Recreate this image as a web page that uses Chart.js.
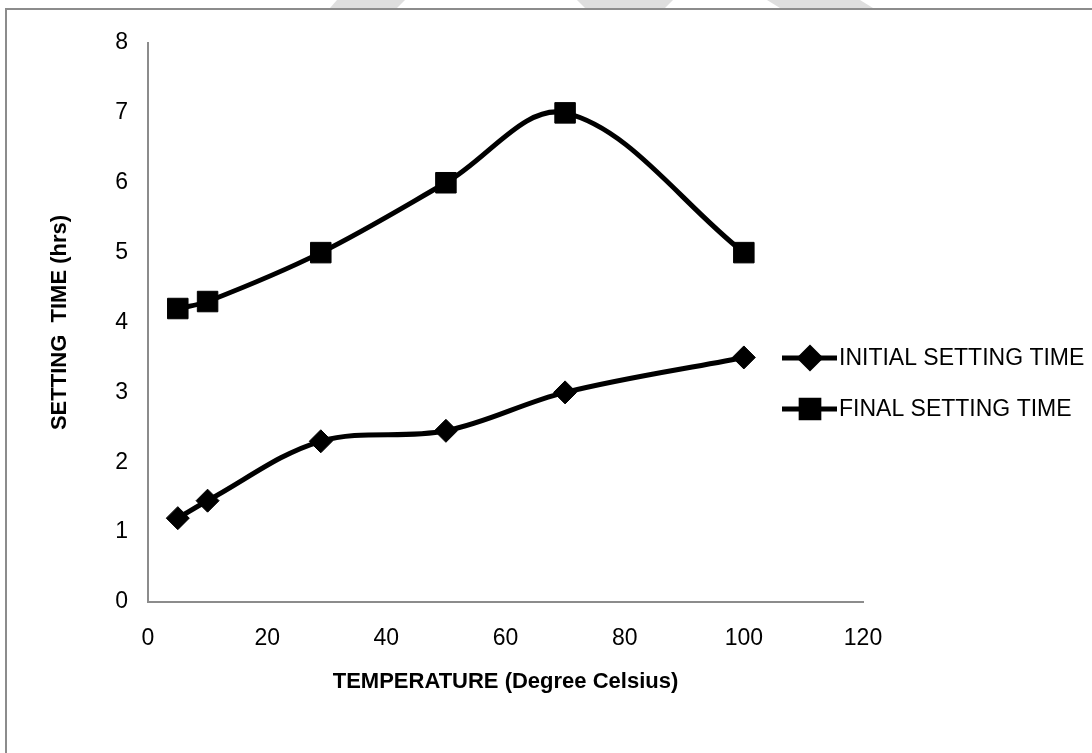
<!DOCTYPE html>
<html>
<head>
<meta charset="utf-8">
<script src="https://cdn.jsdelivr.net/npm/chart.js@4/dist/chart.umd.min.js"></script>
<style>
html, body { margin: 0; padding: 0; background: #fff; }
#wrap { width: 1092px; height: 753px; }
</style>
</head>
<body>
<div id="wrap"><canvas id="settingChart" width="1092" height="753"></canvas></div>
<script>
// values
const temperatures = [5, 10, 29, 50, 70, 100];
const initialSetting = [1.2, 1.45, 2.3, 2.45, 3.0, 3.5];
const finalSetting = [4.2, 4.3, 5.0, 6.0, 7.0, 5.0];
const seriesLabels = ["INITIAL SETTING TIME", "FINAL SETTING TIME"];
const xTitle = "TEMPERATURE (Degree Celsius)";
const yTitle = "SETTING  TIME (hrs)";
const xTickLabels = [0, 20, 40, 60, 80, 100, 120];
const yTickLabels = [0, 1, 2, 3, 4, 5, 6, 7, 8];

const fontFamily = "'Liberation Sans', Arial, sans-serif";

function toPoints(xs, ys) {
    return xs.map(function(x, i) { return {x: x, y: ys[i]}; });
}

// page frame + faint watermark behind the chart
const framePlugin = {
    id: "frame",
    beforeDraw: function(chart) {
        var ctx = chart.ctx;
        ctx.save();
        ctx.fillStyle = "#fff";
        ctx.fillRect(0, 0, chart.width, chart.height);
        ctx.fillStyle = "#dedede";
        [
            [[337, 0], [405, 0], [397, 8], [330, 8]],
            [[577, 0], [673, 0], [665, 8], [585, 8]],
            [[767, 0], [860, 0], [873, 8], [780, 8]]
        ].forEach(function(poly) {
            ctx.beginPath();
            ctx.moveTo(poly[0][0], poly[0][1]);
            for (var i = 1; i < poly.length; i++) ctx.lineTo(poly[i][0], poly[i][1]);
            ctx.closePath();
            ctx.fill();
        });
        ctx.strokeStyle = "#8c8c8c";
        ctx.lineWidth = 2;
        ctx.strokeRect(6, 9, 1300, 1000);
        ctx.restore();
    }
};

// legend drawn as line + marker + label, like the original
const legendPlugin = {
    id: "lineLegend",
    afterDraw: function(chart) {
        var ctx = chart.ctx;
        var rows = [358, 409];
        var legendRadius = [10, 12.5];
        ctx.save();
        chart.data.datasets.forEach(function(ds, i) {
            var y = rows[i];
            ctx.strokeStyle = ds.borderColor;
            ctx.lineWidth = 5;
            ctx.beginPath();
            ctx.moveTo(782, y);
            ctx.lineTo(837, y);
            ctx.stroke();
            ctx.fillStyle = ds.pointBackgroundColor;
            ctx.strokeStyle = ds.pointBackgroundColor;
            Chart.helpers.drawPoint(ctx, {pointStyle: ds.pointStyle, radius: legendRadius[i], borderWidth: 1, rotation: 0}, 810, y);
            ctx.fillStyle = "#000";
            ctx.font = "23px " + fontFamily;
            ctx.textBaseline = "middle";
            ctx.textAlign = "left";
            ctx.fillText(ds.label, 839, y + 1);
        });
        ctx.restore();
    }
};

window.onload = function() {
    var context = document.getElementById("settingChart").getContext("2d");
    new Chart(context, {
        type: "scatter",
        data: {
            datasets: [{
                label: seriesLabels[0],
                data: toPoints(temperatures, initialSetting),
                showLine: true,
                borderColor: "#000",
                borderWidth: 5,
                tension: 0.35,
                pointStyle: "rectRot",
                pointRadius: 11.5,
                pointHoverRadius: 11.5,
                pointBackgroundColor: "#000",
                pointBorderColor: "#000",
                pointBorderWidth: 1
            }, {
                label: seriesLabels[1],
                data: toPoints(temperatures, finalSetting),
                showLine: true,
                borderColor: "#000",
                borderWidth: 5,
                tension: 0.35,
                pointStyle: "rect",
                pointRadius: 14.5,
                pointHoverRadius: 14.5,
                pointBackgroundColor: "#000",
                pointBorderColor: "#000",
                pointBorderWidth: 1
            }]
        },
        options: {
            responsive: false,
            animation: false,
            devicePixelRatio: 1,
            clip: false,
            layout: { padding: { left: 0, right: 229, top: 43, bottom: 51 } },
            plugins: {
                legend: { display: false },
                tooltip: { enabled: false }
            },
            scales: {
                x: {
                    type: "linear",
                    min: xTickLabels[0],
                    max: xTickLabels[xTickLabels.length - 1],
                    afterBuildTicks: function(scale) {
                        scale.ticks = xTickLabels.map(function(v) { return {value: v}; });
                    },
                    afterFit: function(scale) { scale.height = 100; },
                    grid: { display: false, drawTicks: false },
                    border: { display: true, color: "#8c8c8c", width: 2 },
                    ticks: {
                        padding: 23,
                        color: "#000",
                        maxRotation: 0,
                        font: { family: fontFamily, size: 23 }
                    },
                    title: {
                        display: true,
                        text: xTitle,
                        color: "#000",
                        padding: { top: 0, bottom: 7 },
                        font: { family: fontFamily, size: 22, weight: "bold" }
                    }
                },
                y: {
                    type: "linear",
                    min: yTickLabels[0],
                    max: yTickLabels[yTickLabels.length - 1],
                    afterBuildTicks: function(scale) {
                        scale.ticks = yTickLabels.map(function(v) { return {value: v}; });
                    },
                    afterFit: function(scale) { scale.width = 148; },
                    grid: { display: false, drawTicks: false },
                    border: { display: true, color: "#8c8c8c", width: 2 },
                    ticks: {
                        padding: 20,
                        color: "#000",
                        font: { family: fontFamily, size: 23 }
                    },
                    title: {
                        display: true,
                        text: yTitle,
                        color: "#000",
                        padding: { top: 47, bottom: 0 },
                        font: { family: fontFamily, size: 22, weight: "bold" }
                    }
                }
            }
        },
        plugins: [framePlugin, legendPlugin]
    });
};
</script>
</body>
</html>
